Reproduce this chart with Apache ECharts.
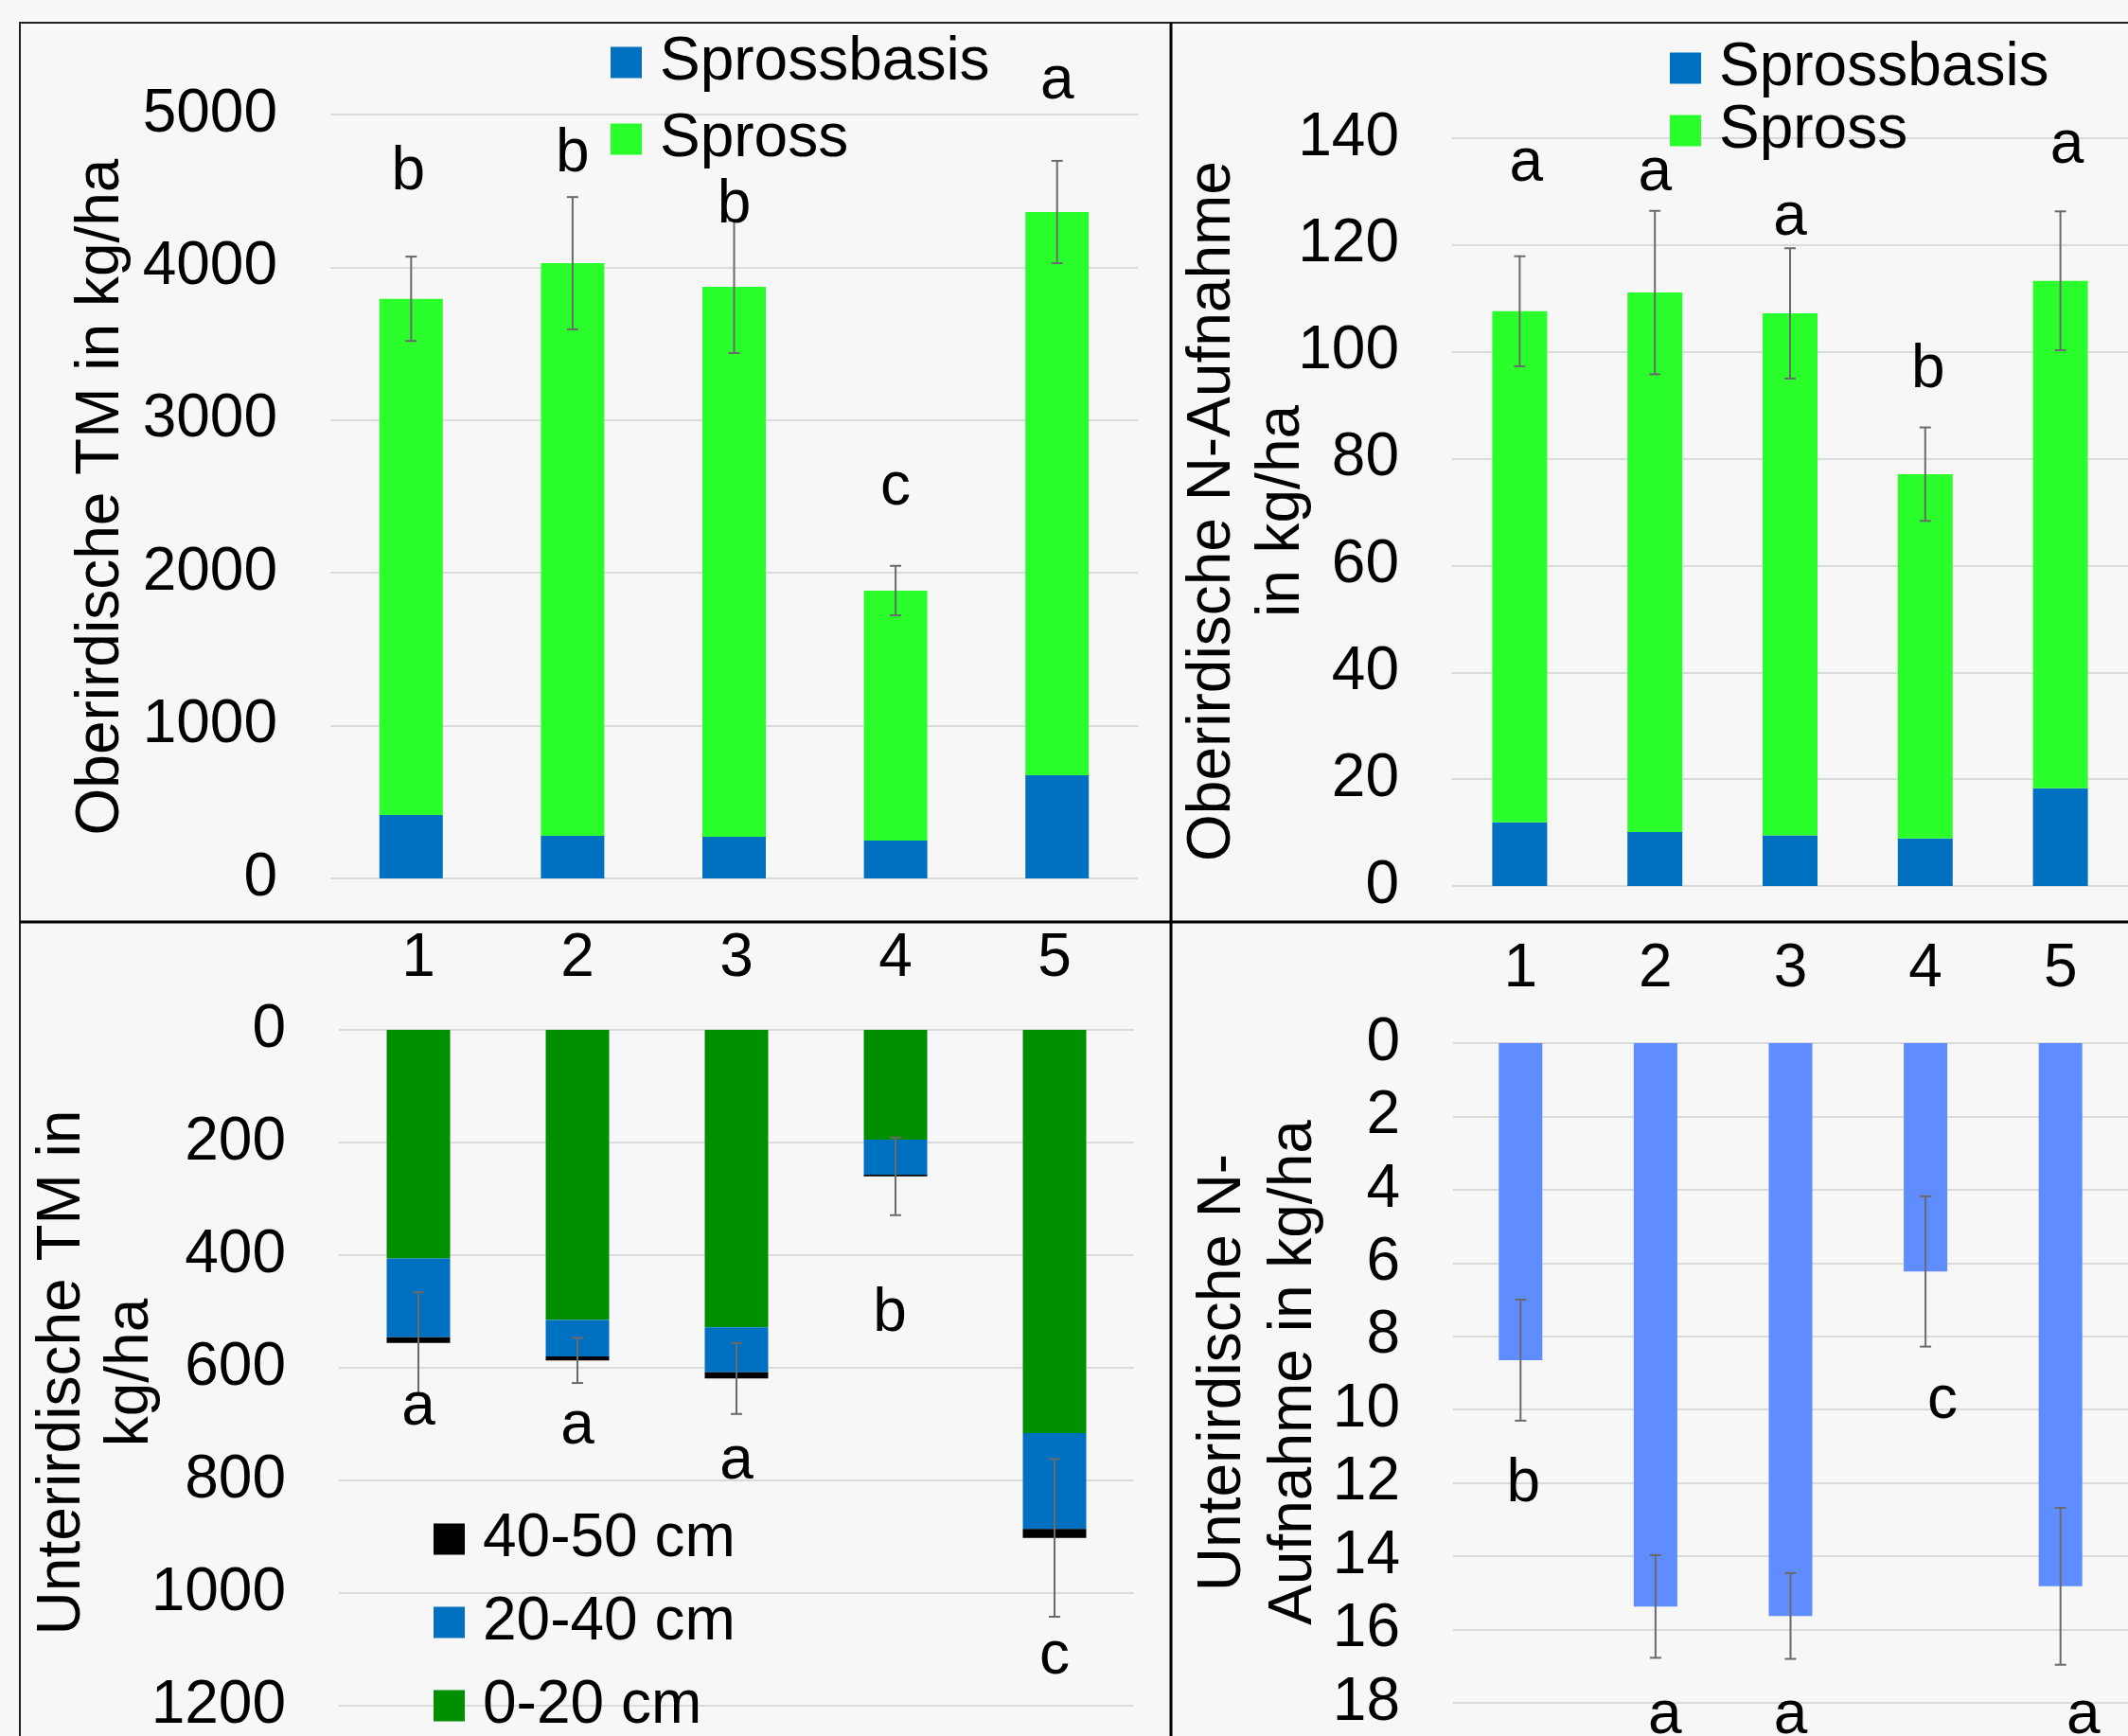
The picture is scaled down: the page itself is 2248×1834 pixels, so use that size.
<!DOCTYPE html>
<html>
<head>
<meta charset="utf-8">
<script src="https://cdn.jsdelivr.net/npm/echarts@6/dist/echarts.min.js"></script>
<style>
html,body{margin:0;padding:0;background:#f7f7f7;}
#c{width:2248px;height:1834px;}
</style>
</head>
<body>
<div id="c"></div>
<script>
// ---------- DATA ----------
const categories = ['1', '2', '3', '4', '5'];

// Top-left: Oberirdische TM in kg/ha
const tmSprossbasis = [415, 279, 272, 248, 675];
const tmSpross = [3379, 3748, 3600, 1636, 3687];
const tmErr = [276, 433, 433, 162, 335];
const tmLetters = ['b', 'b', 'b', 'c', 'a'];
const tmLetterPos = [4617, 4740, 4404, 2555, 5216];
const tmTicks = [0, 5000, 1000];

// Top-right: Oberirdische N-Aufnahme in kg/ha
const nSprossbasis = [11.9, 10.1, 9.5, 8.9, 18.3];
const nSpross = [95.7, 101.0, 97.7, 68.2, 95.0];
const nErr = [10.3, 15.3, 12.2, 8.75, 13.0];
const nLetters = ['a', 'a', 'a', 'b', 'a'];
const nLetterPos = [135.1, 133.3, 125.0, 96.5, 138.5];
const nTicks = [0, 140, 20];

// Bottom-left: Unterirdische TM in kg/ha
const rtm0_20 = [406, 515, 528, 195, 716];
const rtm20_40 = [140, 65, 80, 62, 170];
const rtm40_50 = [10, 7, 11, 3, 16];
const rtmErr = [90, 40, 63, 69, 140];
const rtmLetters = ['a', 'a', 'a', 'b', 'c'];
const rtmLetterPos = [672, 705, 767, 504, 1114];
const rtmTicks = [0, 1200, 200];

// Bottom-right: Unterirdische N-Aufnahme in kg/ha
const rnValues = [8.65, 15.37, 15.63, 6.23, 14.82];
const rnErr = [1.65, 1.4, 1.17, 2.05, 2.14];
const rnLetters = ['b', 'a', 'a', 'c', 'a'];
const rnLetterPos = [12.05, 18.38, 18.38, 9.76, 18.38];
const rnTicks = [0, 18, 2];

// ---------- STYLE ----------
const FONT = "'Liberation Sans', Arial, sans-serif";
const FS = 64;
const C_BASIS = '#0070c0';
const C_SPROSS = '#2bff2b';
const C_0_20 = '#008f00';
const C_20_40 = '#0070c0';
const C_40_50 = '#000000';
const C_RN = '#5f8cff';
const C_ERR = '#6a6a6a';
const C_GRID = '#dadada';
// small horizontal nudges (px) of the significance letters, per panel
const letterNudge = [[-3, 0, 0, 0, 0], [7, 0, 0, 3, 7], [0, 0, 0, -6, 0], [3, 10, 0, 18, 24]];

const chart = echarts.init(document.getElementById('c'), null, {renderer: 'canvas'});

function xAxisCfg(gi, showLabels, margin) {
  return {
    type: 'category', gridIndex: gi, data: categories,
    position: showLabels ? 'top' : 'bottom',
    axisLine: {show: false}, axisTick: {show: false},
    axisLabel: {show: showLabels, fontSize: FS, fontFamily: FONT, color: '#000', margin: margin || 8},
    splitLine: {show: false}
  };
}
function yAxisCfg(gi, ticks, inverse) {
  return {
    type: 'value', gridIndex: gi, min: ticks[0], max: ticks[1], interval: ticks[2], inverse: !!inverse,
    axisLine: {show: false}, axisTick: {show: false},
    axisLabel: {fontSize: FS, fontFamily: FONT, color: '#000', margin: 56, formatter: function (v) { return String(v); }},
    splitLine: {show: true, lineStyle: {color: C_GRID, width: 2}}
  };
}
function errSeries(ai, centers, errs) {
  return {
    type: 'custom', xAxisIndex: ai, yAxisIndex: ai, z: 10, silent: true,
    data: centers.map((c, i) => [i, c, errs[i]]),
    encode: {x: 0, y: 1},
    renderItem: function (params, api) {
      const x = api.value(0), c = api.value(1), e = api.value(2);
      const p1 = api.coord([x, c + e]);
      const p2 = api.coord([x, c - e]);
      const hw = 6;
      const st = {stroke: C_ERR, lineWidth: 2};
      return {
        type: 'group', children: [
          {type: 'line', shape: {x1: p1[0], y1: p1[1], x2: p2[0], y2: p2[1]}, style: st},
          {type: 'line', shape: {x1: p1[0] - hw, y1: p1[1], x2: p1[0] + hw, y2: p1[1]}, style: st},
          {type: 'line', shape: {x1: p2[0] - hw, y1: p2[1], x2: p2[0] + hw, y2: p2[1]}, style: st}
        ]
      };
    }
  };
}
function letterSeries(ai, pos, letters) {
  return {
    type: 'scatter', xAxisIndex: ai, yAxisIndex: ai, z: 20, silent: true, clip: false,
    symbolSize: 0, itemStyle: {opacity: 1},
    data: pos.map((p, i) => ({value: [i, p], label: {offset: [letterNudge[ai][i], 0]}})),
    label: {
      show: true, position: 'inside', fontSize: FS, fontFamily: FONT, color: '#000', opacity: 1,
      formatter: function (p) { return letters[p.dataIndex]; }
    }
  };
}
function barSeries(name, ai, data, color, width, stack) {
  return {
    type: 'bar', name: name, xAxisIndex: ai, yAxisIndex: ai, data: data, stack: stack,
    barWidth: width, itemStyle: {color: color}, silent: true
  };
}
function legendCfg(names, left, top, gap) {
  return {
    data: names, orient: 'vertical', left: left, top: top, padding: 0,
    itemWidth: 33, itemHeight: 33, itemGap: gap, icon: 'rect', selectedMode: false,
    textStyle: {fontSize: FS, fontFamily: FONT, color: '#000', lineHeight: 62, padding: [0, 0, 0, 14]}
  };
}

const tmTotal = tmSprossbasis.map((v, i) => v + tmSpross[i]);
const nTotal = nSprossbasis.map((v, i) => v + nSpross[i]);
const rtmTotal = rtm0_20.map((v, i) => v + rtm20_40[i] + rtm40_50[i]);

function titleText(x, y, text, lh) {
  return {
    type: 'text', x: x, y: y, rotation: Math.PI / 2, silent: true,
    style: {text: text, fontSize: FS, fontFamily: FONT, fill: '#000', align: 'center', verticalAlign: 'middle', lineHeight: lh}
  };
}

const option = {
  animation: false,
  backgroundColor: '#f7f7f7',
  textStyle: {fontFamily: FONT},
  grid: [
    {left: 349, top: 121, width: 853, height: 807},
    {left: 1534, top: 146, width: 722, height: 790},
    {left: 358, top: 1088, width: 840, height: 725},
    {left: 1535, top: 1102, width: 722, height: 697}
  ],
  xAxis: [xAxisCfg(0, false), xAxisCfg(1, false), xAxisCfg(2, true, 43), xAxisCfg(3, true, 46)],
  yAxis: [yAxisCfg(0, tmTicks), yAxisCfg(1, nTicks), yAxisCfg(2, rtmTicks, true), yAxisCfg(3, rnTicks, true)],
  legend: [
    legendCfg(['Sprossbasis', 'Spross'], 645, 34, 17),
    legendCfg(['Sprossbasis', 'Spross'], 1764, 40, 2),
    legendCfg(['40-50 cm', '20-40 cm', '0-20 cm'], 458, 1594, 24)
  ],
  series: [
    barSeries('Sprossbasis', 0, tmSprossbasis, C_BASIS, 67, 'tl'),
    barSeries('Spross', 0, tmSpross, C_SPROSS, 67, 'tl'),
    errSeries(0, tmTotal, tmErr),
    letterSeries(0, tmLetterPos, tmLetters),

    barSeries('Sprossbasis', 1, nSprossbasis, C_BASIS, 58, 'tr'),
    barSeries('Spross', 1, nSpross, C_SPROSS, 58, 'tr'),
    errSeries(1, nTotal, nErr),
    letterSeries(1, nLetterPos, nLetters),

    barSeries('0-20 cm', 2, rtm0_20, C_0_20, 67, 'bl'),
    barSeries('20-40 cm', 2, rtm20_40, C_20_40, 67, 'bl'),
    barSeries('40-50 cm', 2, rtm40_50, C_40_50, 67, 'bl'),
    errSeries(2, rtmTotal, rtmErr),
    letterSeries(2, rtmLetterPos, rtmLetters),

    barSeries('Unterirdische N-Aufnahme', 3, rnValues, C_RN, 46, 'br'),
    errSeries(3, rnValues, rnErr),
    letterSeries(3, rnLetterPos, rnLetters)
  ],
  graphic: [
    {type: 'rect', silent: true, shape: {x: 21, y: 24, width: 2300, height: 1900}, style: {fill: null, stroke: '#222', lineWidth: 2}},
    {type: 'line', silent: true, shape: {x1: 1237, y1: 24, x2: 1237, y2: 1834}, style: {stroke: '#000', lineWidth: 3}},
    {type: 'line', silent: true, shape: {x1: 21, y1: 974, x2: 2248, y2: 974}, style: {stroke: '#000', lineWidth: 3}},
    titleText(107, 525, 'Oberirdische TM in kg/ha', 73),
    titleText(1318, 540, 'Oberirdische N-Aufnahme\nin kg/ha', 73),
    titleText(102, 1450, 'Unterirdische TM in\nkg/ha', 72),
    titleText(1330, 1450, 'Unterirdische N-\nAufnahme in kg/ha', 75)
  ]
};
chart.setOption(option);
</script>
</body>
</html>
